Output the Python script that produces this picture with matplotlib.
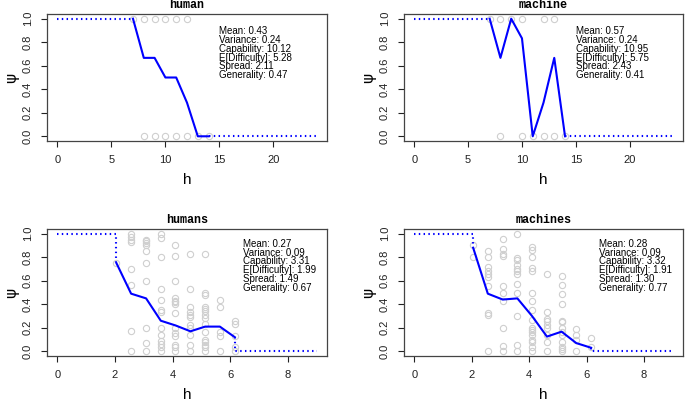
import matplotlib
matplotlib.use("Agg")
import matplotlib.pyplot as plt

# ---------------- data ----------------
# top panels (integer difficulty h)
human_line_h = [7, 8, 9, 10, 11, 12, 13, 14]
human_line_psi = [1.0, 0.667, 0.667, 0.5, 0.5, 0.286, 0.0, 0.0]
human_pts_h = [7, 8, 9, 10, 11, 12, 8, 9, 10, 11, 12, 13, 14]
human_pts_psi = [1, 1, 1, 1, 1, 1, 0, 0, 0, 0, 0, 0, 0]

machine_line_h = [7, 8, 9, 10, 11, 12, 13, 14]
machine_line_psi = [1.0, 0.667, 1.0, 0.833, 0.0, 0.286, 0.667, 0.0]
machine_pts_h = [7, 8, 9, 10, 12, 13, 8, 10, 11, 12, 13, 14]
machine_pts_psi = [1, 1, 1, 1, 1, 1, 0, 0, 0, 0, 0, 0]

top_xmax = 24
top_xticks = [0, 5, 10, 15, 20]

# bottom panels (binned difficulty h)
bins_h = [2.05, 2.56, 3.08, 3.59, 4.10, 4.62, 5.13, 5.64, 6.16]
humans_line_psi = [0.75, 0.49, 0.45, 0.26, 0.22, 0.17, 0.21, 0.21, 0.12]
machines_line_psi = [0.88, 0.49, 0.44, 0.45, 0.30, 0.125, 0.167, 0.07, 0.03]

humans_cols = [
    [0.75],
    [1.0, 0.97, 0.95, 0.93, 0.70, 0.56, 0.17, 0.0],
    [0.95, 0.935, 0.92, 0.905, 0.855, 0.75, 0.60, 0.20, 0.07, 0.0],
    [1.0, 0.96, 0.80, 0.53, 0.44, 0.355, 0.335, 0.20, 0.14, 0.09, 0.065, 0.04, 0.0],
    [0.90, 0.81, 0.60, 0.45, 0.43, 0.415, 0.40, 0.325, 0.20, 0.155, 0.13, 0.05, 0.035, 0.0],
    [0.83, 0.53, 0.38, 0.33, 0.31, 0.29, 0.22, 0.20, 0.14, 0.05, 0.0],
    [0.83, 0.50, 0.475, 0.38, 0.36, 0.34, 0.31, 0.28, 0.23, 0.16, 0.10, 0.075, 0.055, 0.035, 0.0],
    [0.44, 0.38, 0.16, 0.13, 0.0],
    [0.255, 0.235, 0.13, 0.04, 0.0],
]
machines_cols = [
    [0.905, 0.80],
    [0.85, 0.80, 0.714, 0.68, 0.657, 0.629, 0.553, 0.327, 0.307, 0.0],
    [0.955, 0.87, 0.827, 0.807, 0.553, 0.50, 0.43, 0.198, 0.042, 0.0],
    [1.0, 0.79, 0.78, 0.73, 0.70, 0.68, 0.66, 0.57, 0.50, 0.30, 0.05, 0.0],
    [0.89, 0.86, 0.80, 0.71, 0.68, 0.50, 0.43, 0.355, 0.27, 0.20, 0.18, 0.16, 0.14, 0.10, 0.08, 0.04, 0.0],
    [0.66, 0.33, 0.275, 0.255, 0.225, 0.20, 0.14, 0.075, 0.0],
    [0.64, 0.56, 0.49, 0.405, 0.26, 0.245, 0.20, 0.16, 0.14, 0.075, 0.04, 0.02, 0.0],
    [0.19, 0.135, 0.10, 0.0],
    [0.11, 0.04],
]
bot_xmax = 9
bot_xticks = [0, 2, 4, 6, 8]

titles = ["human", "machine", "humans", "machines"]
stats = [
    ["Mean: 0.43", "Variance: 0.24", "Capability: 10.12", "E[Difficulty]: 5.28", "Spread: 2.11", "Generality: 0.47"],
    ["Mean: 0.57", "Variance: 0.24", "Capability: 10.95", "E[Difficulty]: 5.75", "Spread: 2.43", "Generality: 0.41"],
    ["Mean: 0.27", "Variance: 0.09", "Capability: 3.31", "E[Difficulty]: 1.99", "Spread: 1.49", "Generality: 0.67"],
    ["Mean: 0.28", "Variance: 0.09", "Capability: 3.32", "E[Difficulty]: 1.91", "Spread: 1.30", "Generality: 0.77"],
]
yticks = [0.0, 0.2, 0.4, 0.6, 0.8, 1.0]

# ---------------- style ----------------
plt.rcParams['font.family'] = ['Liberation Sans', 'DejaVu Sans']
BLUE = '#0000ff'
GRAY = '#cfcfcf'
DOT = (0, (0.7, 1.6))

W, H = 685, 401
fig = plt.figure(figsize=(W / 100, H / 100), dpi=100)

def box(l, t, r, b):
    return [l / W, 1 - b / H, (r - l) / W, (b - t) / H]

rects = [box(47, 14, 327, 141), box(404, 14, 683, 141),
         box(47, 229, 327, 356), box(404, 229, 683, 356)]
axes = [fig.add_axes(r) for r in rects]


def style(ax, xmax, xticks, title):
    ax.set_xlim(-0.04 * xmax, 1.04 * xmax)
    ax.set_ylim(-0.04, 1.04)
    ax.set_xticks(xticks)
    ax.set_yticks(yticks)
    ax.set_yticklabels([f"{v:.1f}" for v in yticks], rotation=90, va='center')
    ax.tick_params(direction='out', length=4, width=0.8, labelsize=8, pad=6, colors='#222222')
    for s in ax.spines.values():
        s.set_color('#444444')
        s.set_linewidth(0.9)
    ax.set_title(title, family='Liberation Mono', fontweight='bold', fontsize=8.5, pad=4)
    ax.set_xlabel('h', fontsize=11)
    ax.set_ylabel('ψ', fontsize=11, family='DejaVu Sans')
    ax.xaxis.set_label_coords(0.5, -0.255)
    ax.yaxis.set_label_coords(-0.1, 0.5)


def stats_text(ax, x, y, lines):
    ax.text(x, y, "\n".join(lines), ha='left', va='top', fontsize=7,
            linespacing=0.84, color='black')


# top panels
for ax, lh, lp, ph, pp, title, st in [
    (axes[0], human_line_h, human_line_psi, human_pts_h, human_pts_psi, titles[0], stats[0]),
    (axes[1], machine_line_h, machine_line_psi, machine_pts_h, machine_pts_psi, titles[1], stats[1]),
]:
    ax.plot(ph, pp, 'o', mfc='none', mec=GRAY, ms=4.5, mew=0.8, zorder=1)
    ax.plot([0, lh[0]], [1, 1], color=BLUE, lw=1.5, ls=DOT, zorder=2)
    ax.plot([lh[-1], top_xmax], [0, 0], color=BLUE, lw=1.5, ls=DOT, zorder=2)
    ax.plot(lh, lp, color=BLUE, lw=1.5, zorder=3)
    style(ax, top_xmax, top_xticks, title)
    stats_text(ax, 15, 0.935, st)

# bottom panels
for ax, lp, cols, title, st in [
    (axes[2], humans_line_psi, humans_cols, titles[2], stats[2]),
    (axes[3], machines_line_psi, machines_cols, titles[3], stats[3]),
]:
    xs, ys = [], []
    for h, col in zip(bins_h, cols):
        xs += [h] * len(col)
        ys += col
    ax.plot(xs, ys, 'o', mfc='none', mec=GRAY, ms=4.5, mew=0.8, zorder=1)
    ax.plot([0, bins_h[0], bins_h[0]], [1, 1, lp[0]], color=BLUE, lw=1.5, ls=DOT, zorder=2)
    ax.plot([bins_h[-1], bins_h[-1], bot_xmax], [lp[-1], 0, 0], color=BLUE, lw=1.5, ls=DOT, zorder=2)
    ax.plot(bins_h, lp, color=BLUE, lw=1.5, zorder=3)
    style(ax, bot_xmax, bot_xticks, title)
    stats_text(ax, 6.43, 0.955, st)

fig.savefig('out.png', dpi=100)
